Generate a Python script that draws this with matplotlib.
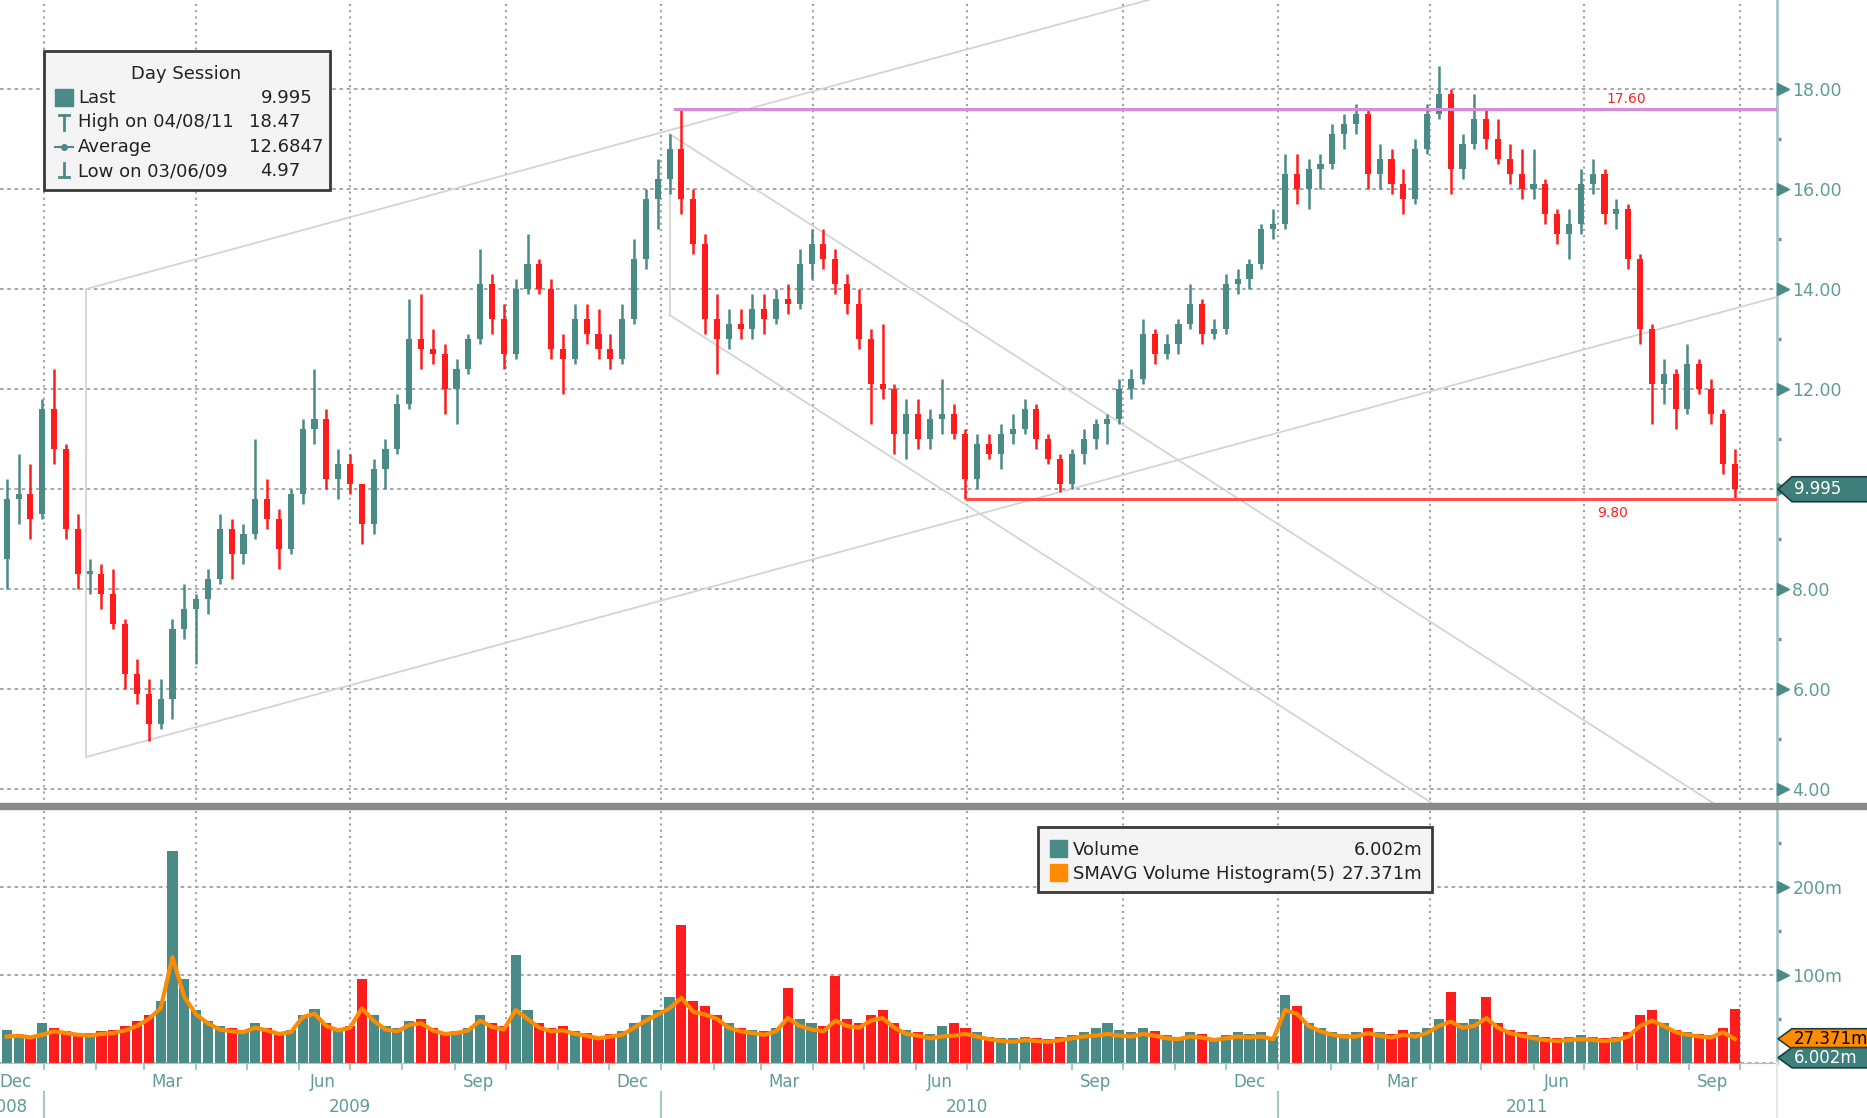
import numpy as np
import pandas as pd
import matplotlib
matplotlib.use('Agg')
import matplotlib.pyplot as plt
import matplotlib.dates as mdates
import matplotlib.transforms as mtrans
from matplotlib.patches import Polygon, Rectangle
from datetime import datetime

plt.rcParams['font.family'] = ['DejaVu Sans']

# weekly bars, first week starts Mon 2008-12-08
first_week = '2008-12-08'
opens = [8.6, 9.8, 9.9, 9.5, 11.6, 10.8, 9.2, 8.3, 8.3, 7.9,
         7.3, 6.3, 5.9, 5.3, 5.8, 7.2, 7.6, 7.8, 8.2, 9.2,
         8.7, 9.1, 9.8, 9.4, 8.8, 9.9, 11.2, 11.4, 10.2, 10.5,
         10.1, 9.3, 10.4, 10.8, 11.7, 13.0, 12.8, 12.7, 12.0, 12.4,
         13.0, 14.1, 13.4, 12.7, 14.0, 14.5, 14.0, 12.8, 12.6, 13.4,
         13.1, 12.8, 12.6, 13.4, 14.6, 15.8, 16.2, 16.8, 15.8, 14.9,
         13.4, 13.0, 13.3, 13.2, 13.6, 13.4, 13.8, 13.7, 14.5, 14.9,
         14.6, 14.1, 13.7, 13.0, 12.1, 12.0, 11.1, 11.5, 11.0, 11.4,
         11.5, 11.1, 10.2, 10.9, 10.7, 11.1, 11.2, 11.6, 11.0, 10.6,
         10.1, 10.7, 11.0, 11.3, 11.4, 12.0, 12.2, 13.1, 12.7, 12.9,
         13.3, 13.7, 13.1, 13.2, 14.1, 14.2, 14.5, 15.2, 15.3, 16.3,
         16.0, 16.4, 16.5, 17.1, 17.3, 17.5, 16.3, 16.6, 16.1, 15.8,
         16.8, 17.5, 17.9, 16.4, 16.9, 17.4, 17.0, 16.6, 16.3, 16.0,
         16.1, 15.5, 15.1, 15.3, 16.1, 16.3, 15.5, 15.6, 14.6, 13.2,
         12.1, 12.3, 11.6, 12.5, 12.0, 11.5, 10.5]
highs = [10.2, 10.7, 10.5, 11.8, 12.4, 10.9, 9.5, 8.6, 8.5, 8.4,
         7.4, 6.6, 6.2, 6.2, 7.4, 8.1, 7.9, 8.4, 9.5, 9.4,
         9.3, 11.0, 10.2, 9.6, 10.0, 11.4, 12.4, 11.6, 10.8, 10.7,
         10.1, 10.6, 11.0, 11.9, 13.8, 13.9, 13.2, 12.9, 12.6, 13.1,
         14.8, 14.3, 13.7, 14.2, 15.1, 14.6, 14.2, 13.1, 13.7, 13.7,
         13.6, 13.1, 13.7, 15.0, 16.0, 16.6, 17.1, 17.6, 16.0, 15.1,
         13.9, 13.6, 13.6, 13.9, 13.9, 14.0, 14.1, 14.8, 15.2, 15.2,
         14.8, 14.3, 14.0, 13.2, 13.3, 12.1, 11.8, 11.8, 11.6, 12.2,
         11.7, 11.2, 11.1, 11.1, 11.3, 11.5, 11.8, 11.7, 11.1, 10.7,
         10.8, 11.2, 11.4, 11.5, 12.2, 12.4, 13.4, 13.2, 13.1, 13.4,
         14.1, 13.8, 13.4, 14.3, 14.4, 14.6, 15.3, 15.6, 16.7, 16.7,
         16.6, 16.7, 17.3, 17.5, 17.7, 17.6, 16.9, 16.8, 16.4, 17.0,
         17.7, 18.47, 18.0, 17.1, 17.9, 17.6, 17.4, 16.9, 16.8, 16.8,
         16.2, 15.6, 15.6, 16.4, 16.6, 16.4, 15.8, 15.7, 14.7, 13.3,
         12.6, 12.4, 12.9, 12.6, 12.2, 11.6, 10.8]
lows = [8.0, 9.3, 9.0, 9.4, 10.5, 9.0, 8.0, 7.9, 7.6, 7.2,
        6.0, 5.7, 4.97, 5.2, 5.4, 7.0, 6.5, 7.5, 8.1, 8.2,
        8.5, 9.0, 9.2, 8.4, 8.7, 9.7, 10.9, 10.0, 9.8, 9.9,
        8.9, 9.1, 10.0, 10.7, 11.6, 12.4, 12.5, 11.5, 11.3, 12.3,
        12.9, 13.1, 12.4, 12.6, 13.9, 13.9, 12.6, 11.9, 12.5, 12.9,
        12.6, 12.4, 12.5, 13.3, 14.4, 15.2, 15.9, 15.5, 14.7, 13.1,
        12.3, 12.8, 13.0, 13.0, 13.1, 13.3, 13.5, 13.6, 14.2, 14.4,
        13.9, 13.5, 12.8, 11.3, 11.8, 10.7, 10.6, 10.8, 10.8, 11.1,
        11.0, 9.80, 10.0, 10.6, 10.4, 10.9, 11.1, 10.8, 10.5, 9.95,
        10.0, 10.5, 10.8, 10.9, 11.3, 11.8, 12.1, 12.5, 12.6, 12.7,
        13.2, 12.9, 13.0, 13.1, 13.9, 14.0, 14.4, 15.0, 15.2, 15.7,
        15.6, 16.0, 16.4, 16.8, 17.1, 16.0, 16.0, 15.9, 15.5, 15.7,
        16.7, 17.4, 15.9, 16.2, 16.8, 16.8, 16.5, 16.1, 15.8, 15.8,
        15.3, 14.9, 14.6, 15.1, 15.9, 15.3, 15.2, 14.4, 12.9, 11.3,
        11.7, 11.2, 11.5, 11.9, 11.3, 10.3, 9.80]
closes = [9.8, 9.9, 9.4, 11.6, 10.8, 9.2, 8.3, 8.3, 7.9, 7.3,
          6.3, 5.9, 5.3, 5.8, 7.2, 7.6, 7.8, 8.2, 9.2, 8.7,
          9.1, 9.8, 9.4, 8.8, 9.9, 11.2, 11.4, 10.2, 10.5, 10.1,
          9.3, 10.4, 10.8, 11.7, 13.0, 12.8, 12.7, 12.0, 12.4, 13.0,
          14.1, 13.4, 12.7, 14.0, 14.5, 14.0, 12.8, 12.6, 13.4, 13.1,
          12.8, 12.6, 13.4, 14.6, 15.8, 16.2, 16.8, 15.8, 14.9, 13.4,
          13.0, 13.3, 13.2, 13.6, 13.4, 13.8, 13.7, 14.5, 14.9, 14.6,
          14.1, 13.7, 13.0, 12.1, 12.0, 11.1, 11.5, 11.0, 11.4, 11.5,
          11.1, 10.2, 10.9, 10.7, 11.1, 11.2, 11.6, 11.0, 10.6, 10.1,
          10.7, 11.0, 11.3, 11.4, 12.0, 12.2, 13.1, 12.7, 12.9, 13.3,
          13.7, 13.1, 13.2, 14.1, 14.2, 14.5, 15.2, 15.3, 16.3, 16.0,
          16.4, 16.5, 17.1, 17.3, 17.5, 16.3, 16.6, 16.1, 15.8, 16.8,
          17.5, 17.9, 16.4, 16.9, 17.4, 17.0, 16.6, 16.3, 16.0, 16.1,
          15.5, 15.1, 15.3, 16.1, 16.3, 15.5, 15.6, 14.6, 13.2, 12.1,
          12.3, 11.6, 12.5, 12.0, 11.5, 10.5, 9.995]
# volume in millions (peak daily within the week) and 5-day SMA
volume = [38, 33, 28, 45, 40, 36, 33, 34, 36, 38,
          42, 48, 55, 70, 240, 95, 60, 48, 42, 40,
          38, 45, 40, 35, 38, 55, 61, 45, 40, 42,
          95, 55, 42, 40, 48, 50, 40, 35, 36, 40,
          55, 45, 42, 122, 60, 45, 40, 42, 36, 34,
          30, 33, 36, 45, 55, 60, 75, 157, 70, 65,
          55, 45, 40, 38, 36, 40, 85, 50, 45, 42,
          99, 50, 45, 55, 60, 45, 38, 35, 33, 42,
          45, 40, 35, 30, 28, 28, 30, 28, 27, 30,
          32, 35, 40, 45, 38, 35, 40, 36, 32, 30,
          35, 33, 28, 32, 35, 33, 35, 30, 77, 65,
          45, 40, 35, 33, 35, 40, 35, 33, 38, 35,
          40, 50, 80, 45, 50, 75, 45, 38, 35, 32,
          30, 28, 30, 32, 30, 28, 30, 35, 55, 60,
          45, 38, 35, 33, 32, 40, 61]
vol_sma = [30, 31, 29, 32, 36, 34, 32, 31, 33, 34,
           37, 42, 50, 62, 120, 75, 55, 45, 38, 36,
           35, 40, 37, 33, 35, 52, 56, 42, 37, 40,
           62, 48, 38, 36, 43, 45, 37, 33, 34, 37,
           48, 41, 38, 60, 50, 40, 36, 37, 33, 31,
           28, 30, 32, 40, 48, 55, 62, 74, 58, 55,
           50, 40, 36, 34, 32, 36, 51, 42, 38, 36,
           48, 42, 40, 48, 51, 40, 33, 31, 28, 30,
           31, 33, 30, 27, 25, 24, 26, 25, 24, 26,
           28, 30, 31, 33, 31, 30, 33, 31, 28, 27,
           30, 29, 26, 28, 30, 29, 30, 27, 60, 56,
           42, 36, 32, 30, 30, 34, 31, 29, 32, 30,
           34, 42, 47, 40, 42, 51, 40, 34, 31, 28,
           26, 25, 26, 27, 26, 25, 26, 30, 42, 48,
           42, 35, 32, 30, 29, 35, 27.371]

# gray trend channels (start/end dates, start/end prices)
trend_lines = [
    (['2009-01-26', '2009-01-26'], [4.64, 14.0]),
    (['2009-01-26', '2011-10-23'], [4.64, 13.84]),
    (['2009-01-26', '2011-10-23'], [14.0, 23.2]),
    (['2010-01-06', '2010-01-06'], [13.48, 17.1]),
    (['2010-01-06', '2011-10-23'], [17.1, 2.9]),
    (['2010-01-06', '2011-10-23'], [13.48, -0.7]),
]
resist = 17.60
resist_from = '2010-01-09'
support = 9.80
support_from = '2010-07-01'
last_px, high_px, avg_px, low_px = 9.995, 18.47, 12.6847, 4.97
last_vol, last_sma = 6.002, 27.371

price_ticks = [4, 6, 8, 10, 12, 14, 16, 18]
price_labels = ['4.00', '6.00', '8.00', '', '12.00', '14.00', '16.00', '18.00']
vol_ticks = [100, 200]
vol_labels = ['100m', '200m']

teal = '#4a8a87'
red = '#ff1c1c'
orange = '#ff8c00'
lbl_teal = '#5f9b98'
axis_c = '#a6c8c5'
grid_c = '#a0a0a0'

weeks = pd.date_range(first_week, periods=len(closes), freq='7D')
xc = mdates.date2num(weeks + pd.Timedelta(days=2))
o = np.array(opens); h = np.array(highs); l = np.array(lows); c = np.array(closes)
cols = np.where(c >= o, teal, red)

W, H = 1867, 1118
fig = plt.figure(figsize=(W/100, H/100), dpi=100)
fig.patch.set_facecolor('white')
xr = 1777
ax = fig.add_axes([0, 1-806/H, xr/W, 806/H])
axv = fig.add_axes([0, (H-1063)/H, xr/W, (1063-810)/H])
xlim = mdates.date2num([datetime(2008, 12, 6), datetime(2011, 10, 23)])

# ---- price panel ----
ax.vlines(xc, l, h, colors=cols, lw=1.8, zorder=3)
ax.bar(xc, np.where(np.abs(c-o) < 0.05, 0.05, c-o), bottom=o, width=3.6,
       color=cols, zorder=3)
for dd, pp in trend_lines:
    ax.plot(mdates.date2num(pd.to_datetime(dd)), pp, color='#d4d4d4', lw=1.3, zorder=2)
ax.plot([mdates.date2num(pd.Timestamp(resist_from)), xlim[1]], [resist, resist],
        color='#d98bd9', lw=2.2, zorder=4)
ax.plot([mdates.date2num(pd.Timestamp(support_from)), xlim[1]], [support, support],
        color='#ff4d4d', lw=2.2, zorder=4)
ax.annotate('%.2f' % resist, (mdates.date2num(datetime(2011, 7, 26)), resist),
            xytext=(0, 7), textcoords='offset points', ha='center', va='center',
            color='#ff2020', fontsize=10)
ax.annotate('%.2f' % support, (mdates.date2num(datetime(2011, 7, 18)), support),
            xytext=(0, -10), textcoords='offset points', ha='center', va='center',
            color='#ff2020', fontsize=10)

ax.set_xlim(xlim)
ax.set_ylim(3.66, 19.78)
grid_dates = mdates.date2num(pd.date_range('2009-01-01', '2011-10-01', freq='QS'))
for a in (ax, axv):
    for gd in grid_dates:
        a.axvline(gd, color=grid_c, lw=1.5, ls=(0, (1, 2)), zorder=1)
for p in price_ticks:
    ax.axhline(p, color=grid_c, lw=1.3, ls=(0, (2, 2)), zorder=1)
for s in ['top', 'left', 'bottom']:
    ax.spines[s].set_visible(False)
    axv.spines[s].set_visible(False)
ax.spines['right'].set_color(axis_c)
ax.spines['right'].set_linewidth(2)
ax.set_xticks([])
ax.yaxis.tick_right()
ax.set_yticks(price_ticks)
ax.set_yticklabels(price_labels)
ax.set_yticks(np.arange(5, 19, 2), minor=True)
ax.tick_params(axis='y', which='major', length=0, pad=11, labelsize=12.5,
               labelcolor=lbl_teal)
ax.tick_params(axis='y', which='minor', length=3, width=2.5, color=lbl_teal)
tr = mtrans.blended_transform_factory(ax.transAxes, ax.transData)
ax.plot([1 + 6/xr]*len(price_ticks), price_ticks, ls='none', marker='>', ms=9,
        color=teal, transform=tr, clip_on=False, zorder=6)

# ---- volume panel ----
axv.bar(xc, volume, width=6.0, color=cols, zorder=2)
axv.plot(xc, vol_sma, color=orange, lw=3, zorder=3)
axv.set_xlim(xlim)
axv.set_ylim(0, 287)
for v in [0] + vol_ticks:
    axv.axhline(v, color=grid_c, lw=1.3, ls=(0, (2, 2)), zorder=1)
axv.spines['right'].set_color(axis_c)
axv.spines['right'].set_linewidth(2)
axv.spines['bottom'].set_visible(True)
axv.spines['bottom'].set_color(axis_c)
axv.yaxis.tick_right()
axv.set_yticks(vol_ticks)
axv.set_yticklabels(vol_labels)
axv.set_yticks([50, 150, 250], minor=True)
axv.tick_params(axis='y', which='major', length=0, pad=11, labelsize=12.5,
                labelcolor=lbl_teal)
axv.tick_params(axis='y', which='minor', length=3, width=2.5, color=lbl_teal)
trv = mtrans.blended_transform_factory(axv.transAxes, axv.transData)
axv.plot([1 + 6/xr]*len(vol_ticks), vol_ticks, ls='none', marker='>', ms=9,
         color=teal, transform=trv, clip_on=False, zorder=6)

month_ticks = mdates.date2num(pd.date_range('2009-01-01', '2011-10-01', freq='MS'))
axv.set_xticks(month_ticks, minor=True)
axv.set_xticks([])
axv.tick_params(axis='x', which='minor', length=5, width=1.5, color=axis_c)
trx = mtrans.blended_transform_factory(axv.transData, axv.transAxes)
month_lbls = [('2008-12-15', 'Dec'), ('2009-03-15', 'Mar'), ('2009-06-15', 'Jun'),
              ('2009-09-15', 'Sep'), ('2009-12-15', 'Dec'), ('2010-03-15', 'Mar'),
              ('2010-06-15', 'Jun'), ('2010-09-15', 'Sep'), ('2010-12-15', 'Dec'),
              ('2011-03-15', 'Mar'), ('2011-06-15', 'Jun'), ('2011-09-15', 'Sep')]
for d, t in month_lbls:
    axv.text(mdates.date2num(pd.Timestamp(d)), -0.075, t, transform=trx, ha='center',
             va='center', fontsize=12, color=lbl_teal, clip_on=False)
year_lbls = [('2008-12-10', '2008'), ('2009-07-01', '2009'), ('2010-07-01', '2010'),
             ('2011-05-28', '2011')]
for d, t in year_lbls:
    axv.text(mdates.date2num(pd.Timestamp(d)), -0.172, t, transform=trx, ha='center',
             va='center', fontsize=12, color=lbl_teal, clip_on=False)
for d in ['2009-01-01', '2010-01-01', '2011-01-01']:
    axv.plot([mdates.date2num(pd.Timestamp(d))]*2, [-0.115, -0.23], color=axis_c,
             lw=1.5, transform=trx, clip_on=False)

# ---- overlay in pixel coords: separator, legends, value tags ----
ov = fig.add_axes([0, 0, 1, 1], zorder=10)
ov.set_xlim(0, W)
ov.set_ylim(H, 0)
ov.axis('off')
ov.patch.set_alpha(0)
ov.add_patch(Rectangle((0, 803), W, 6, color='#8a8a8a'))
ov.plot([xr, xr], [1063, H], color='#dfe9e8', lw=1.5)

# Day Session legend
ov.add_patch(Rectangle((44, 51), 286, 139, facecolor='#f4f4f4', edgecolor='#3a3a3a', lw=2))
ov.text(186, 74, 'Day Session', ha='center', va='center', fontsize=13, color='#222')
rows = [('Last', '%.3f' % last_px, 261), ('High on 04/08/11', '%.2f' % high_px, 249),
        ('Average', '%.4f' % avg_px, 249), ('Low on 03/06/09', '%.2f' % low_px, 260)]
ry = [98, 122, 147, 171]
for (lab, val, vx), y in zip(rows, ry):
    ov.text(78, y, lab, ha='left', va='center', fontsize=13, color='#222')
    ov.text(vx, y, val, ha='left', va='center', fontsize=13, color='#222')
ov.add_patch(Rectangle((55, 89), 18, 17, color=teal))
ov.plot([59, 69], [115, 115], color=teal, lw=2)
ov.plot([64, 64], [115, 130], color=teal, lw=2)
ov.plot([55, 73], [147, 147], color=teal, lw=1.5)
ov.plot([64], [147], marker='o', ms=4, color=teal)
ov.plot([64, 64], [163, 177], color=teal, lw=2)
ov.plot([59, 69], [177, 177], color=teal, lw=2)

# Volume legend
ov.add_patch(Rectangle((1038, 827), 394, 65, facecolor='#f4f4f4', edgecolor='#3a3a3a', lw=2))
ov.add_patch(Rectangle((1050, 840), 17, 17, color=teal))
ov.add_patch(Rectangle((1050, 864), 17, 17, color=orange))
ov.text(1073, 850, 'Volume', ha='left', va='center', fontsize=13, color='#222')
ov.text(1073, 874, 'SMAVG Volume Histogram(5)', ha='left', va='center', fontsize=13,
        color='#222')
ov.text(1422, 850, '%.3fm' % last_vol, ha='right', va='center', fontsize=13, color='#222')
ov.text(1422, 874, '%.3fm' % last_sma, ha='right', va='center', fontsize=13, color='#222')


def tag(axis, trans, yval, half, txt, fc, tc, clip=None):
    pts = [(1 + 1/xr, yval), (1 + 15/xr, yval + half), (1 + 100/xr, yval + half),
           (1 + 100/xr, yval - half), (1 + 15/xr, yval - half)]
    pg = Polygon(pts, closed=True, facecolor=fc, edgecolor='#1e3e3c', lw=1.2,
                 transform=trans, clip_on=False, zorder=7)
    axis.add_patch(pg)
    tx = axis.text(1 + 17/xr, yval, txt, transform=trans, ha='left', va='center',
                   fontsize=12, color=tc, clip_on=False, zorder=8)
    if clip is not None:
        pg.set_clip_path(clip)
        tx.set_clip_path(clip)


tag(ax, tr, last_px, 0.25, '%.3f' % last_px, '#3f7f7b', 'white')
clip_rect = Rectangle((0, (H-1066)/H), 1, 1066/H, transform=fig.transFigure)
tag(axv, trv, last_sma, 11.5, '%.3fm' % last_sma, orange, 'black')
tag(axv, trv, last_vol, 11.5, '%.3fm' % last_vol, '#3f7f7b', 'white', clip=clip_rect)

fig.savefig('out.png', dpi=100, facecolor='white')
